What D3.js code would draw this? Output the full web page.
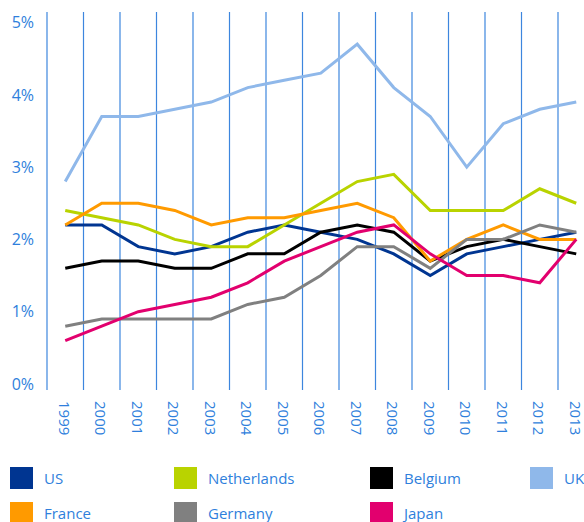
<!DOCTYPE html>
<html>
<head>
<meta charset="utf-8">
<script src="https://cdn.jsdelivr.net/npm/d3@7"></script>
<style>
  body { margin: 0; background: #fff; }
  text { font-family: "Open Sans", sans-serif; fill: #2f7fdc; }
</style>
</head>
<body>
<svg id="chart" width="584" height="522"></svg>
<script>
const years = ['1999','2000','2001','2002','2003','2004','2005','2006','2007','2008','2009','2010','2011','2012','2013'];
const yTicks = [0, 1, 2, 3, 4, 5];

const us          = [2.2, 2.2, 1.9, 1.8, 1.9, 2.1, 2.2, 2.1, 2.0, 1.8, 1.5, 1.8, 1.9, 2.0, 2.1];
const netherlands = [2.4, 2.3, 2.2, 2.0, 1.9, 1.9, 2.2, 2.5, 2.8, 2.9, 2.4, 2.4, 2.4, 2.7, 2.5];
const belgium     = [1.6, 1.7, 1.7, 1.6, 1.6, 1.8, 1.8, 2.1, 2.2, 2.1, 1.7, 1.9, 2.0, 1.9, 1.8];
const uk          = [2.8, 3.7, 3.7, 3.8, 3.9, 4.1, 4.2, 4.3, 4.7, 4.1, 3.7, 3.0, 3.6, 3.8, 3.9];
const france      = [2.2, 2.5, 2.5, 2.4, 2.2, 2.3, 2.3, 2.4, 2.5, 2.3, 1.7, 2.0, 2.2, 2.0, 2.0];
const germany     = [0.8, 0.9, 0.9, 0.9, 0.9, 1.1, 1.2, 1.5, 1.9, 1.9, 1.6, 2.0, 2.0, 2.2, 2.1];
const japan       = [0.6, 0.8, 1.0, 1.1, 1.2, 1.4, 1.7, 1.9, 2.1, 2.2, 1.8, 1.5, 1.5, 1.4, 2.0];

const series = [
  { name: 'US', values: us, color: '#003591' },
  { name: 'Netherlands', values: netherlands, color: '#b9d300' },
  { name: 'Belgium', values: belgium, color: '#000000' },
  { name: 'UK', values: uk, color: '#8fb8ea' },
  { name: 'France', values: france, color: '#ff9a00' },
  { name: 'Germany', values: germany, color: '#808080' },
  { name: 'Japan', values: japan, color: '#e2006e' }
];

const svg = d3.select('#chart');

const x = d3.scaleBand()
  .domain(years)
  .range([47, 47 + years.length * 36.5])
  .padding(0);

const y = d3.scaleLinear()
  .domain([0, 5])
  .range([384, 22.5]);

// vertical grid lines at band edges
svg.append('g')
  .selectAll('line')
  .data(years)
  .enter()
  .append('line')
  .attr('x1', d => x(d))
  .attr('x2', d => x(d))
  .attr('y1', 12)
  .attr('y2', 390)
  .attr('stroke', '#3d86de')
  .attr('stroke-width', 1.2);

// Y labels
svg.append('g')
  .selectAll('text')
  .data(yTicks)
  .enter()
  .append('text')
  .attr('x', 34)
  .attr('y', d => y(d))
  .attr('dy', '0.36em')
  .attr('text-anchor', 'end')
  .attr('font-size', 16)
  .text(d => d + '%');

// X labels, rotated
svg.append('g')
  .selectAll('text')
  .data(years)
  .enter()
  .append('text')
  .attr('transform', d => `translate(${x(d) + x.bandwidth() / 2 - 1},401) rotate(90)`)
  .attr('dy', '0.36em')
  .attr('font-size', 15)
  .text(d => d);

// lines
const line = d3.line()
  .x((d, i) => x(years[i]) + x.bandwidth() / 2)
  .y(d => y(d));

svg.append('g')
  .selectAll('path')
  .data(series)
  .enter()
  .append('path')
  .attr('d', d => line(d.values))
  .attr('fill', 'none')
  .attr('stroke', d => d.color)
  .attr('stroke-width', 3)
  .attr('stroke-linejoin', 'miter');

// legend
const legendCols = [10, 174, 370, 530];
const legend = svg.append('g')
  .selectAll('g')
  .data(series)
  .enter()
  .append('g')
  .attr('transform', (d, i) => `translate(${legendCols[i % 4]},${467 + Math.floor(i / 4) * 35})`);

legend.append('rect')
  .attr('width', 23)
  .attr('height', 22)
  .attr('fill', d => d.color);

legend.append('text')
  .attr('x', 34)
  .attr('y', 12)
  .attr('dy', '0.36em')
  .attr('font-size', 15)
  .text(d => d.name);
</script>
</body>
</html>
